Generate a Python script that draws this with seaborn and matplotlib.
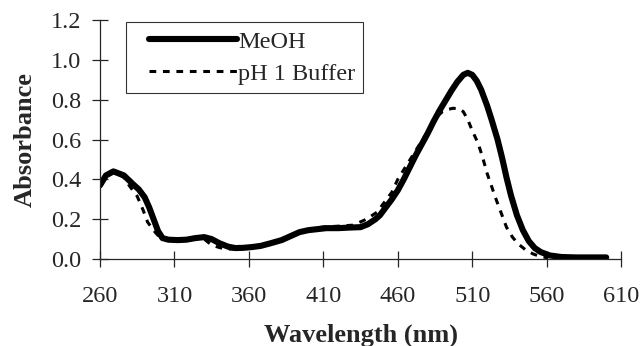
import pandas as pd
import seaborn as sns
import matplotlib.pyplot as plt
from matplotlib.lines import Line2D
from matplotlib.legend_handler import HandlerLine2D

sns.set_style("ticks")
plt.rcParams["font.family"] = ["Liberation Serif", "DejaVu Serif"]

# MeOH spectrum (solid)
meoh_nm = [260, 264, 269, 276, 283, 286, 290, 293, 296, 299, 302, 306, 312,
           318, 324, 330, 335, 340, 346, 351, 356, 362, 368, 375, 382, 388,
           394, 400, 406, 412, 420, 428, 435, 440, 445, 448, 452, 456, 460,
           464, 468, 472, 476, 480, 484, 488, 492, 496, 500, 504, 507, 510,
           513, 516, 520, 523, 527, 530, 533, 536, 540, 544, 548, 552, 556,
           562, 570, 580, 590, 600]
meoh_abs = [0.37, 0.42, 0.44, 0.42, 0.37, 0.35, 0.31, 0.26, 0.20, 0.14, 0.105,
            0.097, 0.095, 0.097, 0.105, 0.11, 0.10, 0.08, 0.062, 0.055, 0.056,
            0.06, 0.066, 0.08, 0.095, 0.115, 0.135, 0.145, 0.15, 0.155, 0.155,
            0.158, 0.16, 0.175, 0.20, 0.22, 0.26, 0.30, 0.345, 0.40, 0.46,
            0.52, 0.575, 0.63, 0.69, 0.745, 0.795, 0.845, 0.89, 0.925, 0.935,
            0.925, 0.895, 0.85, 0.77, 0.70, 0.60, 0.51, 0.41, 0.32, 0.22,
            0.145, 0.09, 0.055, 0.035, 0.018, 0.01, 0.008, 0.008, 0.008]

# pH 1 buffer spectrum (dashed)
buffer_nm = [260, 264, 269, 276, 280, 285, 289, 292, 297, 300, 303, 310, 318,
             324, 330, 335, 340, 345, 350, 356, 362, 368, 375, 382, 388, 394,
             400, 409, 420, 430, 439, 446, 451, 456, 460, 465, 470, 475, 481,
             487, 490, 493, 497, 501, 504, 507, 510, 514, 517, 520, 523, 526,
             530, 533, 537, 541, 546, 551, 556, 561]
buffer_abs = [0.37, 0.42, 0.44, 0.41, 0.365, 0.315, 0.245, 0.185, 0.135, 0.11,
              0.10, 0.095, 0.097, 0.103, 0.10, 0.07, 0.058, 0.05, 0.05, 0.055,
              0.06, 0.066, 0.08, 0.095, 0.115, 0.135, 0.145, 0.16, 0.165, 0.17,
              0.20, 0.235, 0.285, 0.335, 0.40, 0.46, 0.52, 0.58, 0.65, 0.72,
              0.74, 0.75, 0.757, 0.755, 0.74, 0.70, 0.645, 0.58, 0.51, 0.43,
              0.365, 0.30, 0.22, 0.16, 0.11, 0.075, 0.045, 0.025, 0.012, 0.006]

x_ticks = [260, 310, 360, 410, 460, 510, 560, 610]
y_ticks = [0.0, 0.2, 0.4, 0.6, 0.8, 1.0, 1.2]

meoh = pd.DataFrame({"nm": meoh_nm, "abs": meoh_abs})
buffer = pd.DataFrame({"nm": buffer_nm, "abs": buffer_abs})

fig = plt.figure(figsize=(6.41, 3.46), dpi=100)
ax = fig.add_axes([0.156, 0.2514, 0.813, 0.6906])

sns.lineplot(data=buffer, x="nm", y="abs", ax=ax, color="black", linewidth=2.2,
             linestyle=(0, (2.2, 2.2)), label="pH 1 Buffer", sort=False)
sns.lineplot(data=meoh, x="nm", y="abs", ax=ax, color="black", linewidth=4.4,
             label="MeOH", sort=False, solid_capstyle="round",
             solid_joinstyle="round")

ax.set_xlim(260, 610)
ax.set_ylim(0, 1.2)
ax.set_xticks(x_ticks)
ax.set_yticks(y_ticks)
ax.set_yticklabels([f"{v:.1f}" for v in y_ticks])
ax.tick_params(direction="inout", length=11, width=0.9, labelsize=17.5)
ax.tick_params(axis="y", pad=8)
ax.tick_params(axis="x", pad=14)
sns.despine(ax=ax)
for s in ["left", "bottom"]:
    ax.spines[s].set_linewidth(0.9)

ax.set_xlabel("Wavelength (nm)", fontsize=19, fontweight="bold", labelpad=12)
ax.set_ylabel("Absorbance", fontsize=19, fontweight="bold", labelpad=10)

handles, labels = ax.get_legend_handles_labels()
leg = ax.legend(handles[::-1], labels[::-1], loc="upper left",
                bbox_to_anchor=(0.05, 0.99), borderaxespad=0, fontsize=17.5,
                handlelength=4.2, handletextpad=0.05, fancybox=False,
                frameon=True, edgecolor="black", borderpad=0.35,
                labelspacing=0.4,
                handler_map={Line2D: HandlerLine2D(xpad=0.6)})
leg.get_frame().set_linewidth(0.8)

fig.savefig("out.png", dpi=100)
